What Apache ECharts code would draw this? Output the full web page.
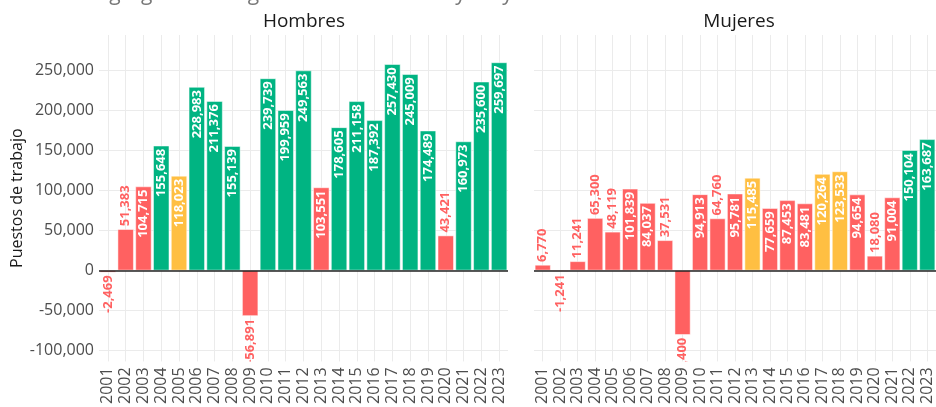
<!DOCTYPE html>
<html>
<head>
<meta charset="utf-8">
<script src="https://cdn.jsdelivr.net/npm/echarts@6/dist/echarts.min.js"></script>
<style>
html, body { margin: 0; padding: 0; background: #ffffff; }
#chart { width: 936px; height: 407px; }
</style>
</head>
<body>
<div id="chart"></div>
<script>
var years = ['2001', '2002', '2003', '2004', '2005', '2006', '2007', '2008', '2009', '2010', '2011', '2012',
  '2013', '2014', '2015', '2016', '2017', '2018', '2019', '2020', '2021', '2022', '2023'];
var hombres = [-2469, 51383, 104715, 155648, 118023, 228983, 211376, 155139, -56891, 239739, 199959, 249563,
  103551, 178605, 211158, 187392, 257430, 245009, 174489, 43421, 160973, 235600, 259697];
var mujeres = [6770, -1241, 11241, 65300, 48119, 101839, 84037, 37531, -80400, 94913, 64760, 95781,
  115485, 77659, 87453, 83481, 120264, 123533, 94654, 18080, 91004, 150104, 163687];
var panelTitles = ['Hombres', 'Mujeres'];

var RED = '#FF6161';
var YELLOW = '#FFBF42';
var GREEN = '#00B482';
var FONT = '"Open Sans", "DejaVu Sans", sans-serif';
var Y_MIN = -113700;
var Y_MAX = 294000;

function barColor(v) {
  if (v >= 150000) return GREEN;
  if (v >= 110000) return YELLOW;
  return RED;
}

function fmt(v) {
  return String(v).replace(/\B(?=(\d{3})+(?!\d))/g, ',');
}

// etiqueta vertical dentro o fuera de la barra
function labelItem(params, api) {
  var v = api.value(1);
  var pt = api.coord([api.value(0), v]);
  var y, align, fill;
  if (v >= 70000) {
    y = pt[1] + 3; align = 'right'; fill = '#ffffff';
  } else if (v >= 0) {
    y = pt[1] - 3; align = 'left'; fill = barColor(v);
  } else {
    y = pt[1] + 3; align = 'right'; fill = barColor(v);
  }
  return {
    type: 'text',
    x: pt[0],
    y: y,
    rotation: Math.PI / 2,
    style: {
      text: fmt(v),
      fill: fill,
      fontSize: 13,
      fontWeight: 'bold',
      fontFamily: FONT,
      align: align,
      verticalAlign: 'middle'
    }
  };
}

function catAxis(g) {
  return {
    type: 'category',
    gridIndex: g,
    data: years,
    axisLine: { show: false },
    axisTick: { show: false },
    splitLine: { show: false },
    axisLabel: { rotate: 90, fontSize: 16, color: '#4d4d4d', fontFamily: FONT, margin: 6, interval: 0 }
  };
}

function gridAxis(g) {
  return {
    type: 'value',
    gridIndex: g,
    position: 'top',
    min: -0.5,
    max: 22.5,
    minInterval: 1,
    maxInterval: 1,
    splitNumber: 23,
    axisLine: { show: false },
    axisTick: { show: false },
    axisLabel: { show: false },
    splitLine: { show: true, showMinLine: false, showMaxLine: false, lineStyle: { color: '#ebebeb', width: 1 } }
  };
}

function valAxis(g) {
  var ax = {
    type: 'value',
    gridIndex: g,
    min: Y_MIN,
    max: Y_MAX,
    minInterval: 50000,
    maxInterval: 50000,
    splitNumber: 8,
    axisLine: { show: false },
    axisTick: { show: false },
    axisLabel: {
      show: g == 0,
      showMinLabel: false,
      showMaxLabel: false,
      formatter: fmt,
      fontSize: 16,
      color: '#4d4d4d',
      fontFamily: FONT,
      margin: 5
    },
    splitLine: { show: true, showMinLine: false, showMaxLine: false, lineStyle: { color: '#ebebeb', width: 1 } }
  };
  if (g == 0) {
    ax.name = 'Puestos de trabajo';
    ax.nameLocation = 'middle';
    ax.nameGap = 65;
    ax.nameTextStyle = { fontSize: 16, color: '#1a1a1a', fontFamily: FONT };
  }
  return ax;
}

function barSeries(g, data) {
  return {
    type: 'bar',
    xAxisIndex: g,
    yAxisIndex: g,
    data: data,
    barCategoryGap: '10%',
    itemStyle: {
      color: function(p) { return barColor(p.value); },
      borderColor: '#ffffff',
      borderWidth: 0.5
    },
    markLine: {
      silent: true,
      symbol: ['none', 'none'],
      label: { show: false },
      lineStyle: { color: '#222222', type: 'solid', width: 1.6 },
      data: [{ yAxis: 0 }]
    },
    z: 2
  };
}

function labelSeries(g, data) {
  return {
    type: 'custom',
    xAxisIndex: g,
    yAxisIndex: g,
    clip: true,
    data: data.map(function(v, i) { return [i, v]; }),
    renderItem: labelItem,
    z: 5
  };
}

var chart = echarts.init(document.getElementById('chart'));
chart.setOption({
  animation: false,
  backgroundColor: '#ffffff',
  grid: [
    { left: 99, top: 35, width: 409, height: 331 },
    { left: 534, top: 35, width: 408, height: 331 }
  ],
  graphic: [
    { type: 'text', x: 96, y: 5, style: { text: 'Agregados al registro en IMSS enero y mayo de cada año', fontSize: 21, fontFamily: FONT, fill: '#777777', align: 'left', verticalAlign: 'bottom' } },
    { type: 'text', x: 304, y: 22, style: { text: panelTitles[0], fontSize: 19, fontFamily: FONT, fill: '#1a1a1a', align: 'center', verticalAlign: 'middle' } },
    { type: 'text', x: 739, y: 22, style: { text: panelTitles[1], fontSize: 19, fontFamily: FONT, fill: '#1a1a1a', align: 'center', verticalAlign: 'middle' } }
  ],
  xAxis: [catAxis(0), catAxis(1), gridAxis(0), gridAxis(1)],
  yAxis: [valAxis(0), valAxis(1)],
  series: [
    barSeries(0, hombres),
    barSeries(1, mujeres),
    labelSeries(0, hombres),
    labelSeries(1, mujeres)
  ]
});
</script>
</body>
</html>
